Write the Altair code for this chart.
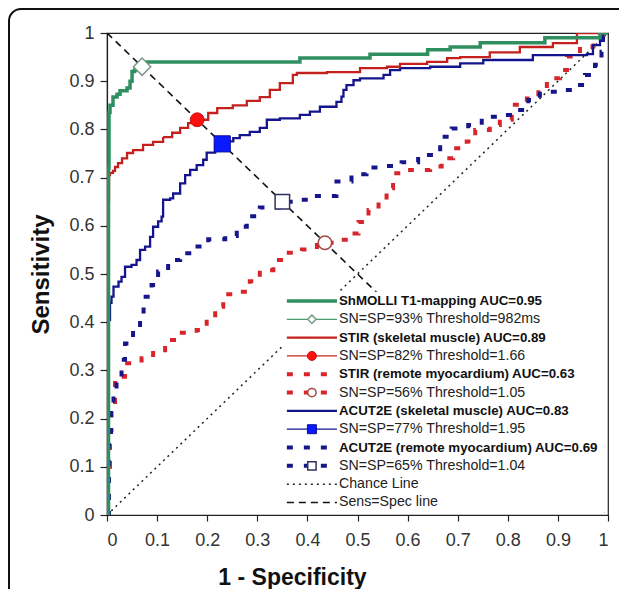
import altair as alt
import pandas as pd

# ---------------- data ----------------
shmolli_fpr = [0, 0.003, 0.004, 0.006, 0.012, 0.02, 0.026, 0.04, 0.046, 0.05, 0.055, 0.06, 0.07,
               0.08, 0.385, 0.525, 0.64, 0.685, 0.745, 0.874, 0.984, 1]
shmolli_tpr = [0, 0.72, 0.835, 0.85, 0.867, 0.873, 0.88, 0.886, 0.9, 0.92, 0.923, 0.927, 0.93,
               0.94, 0.948, 0.956, 0.965, 0.971, 0.98, 0.99, 1, 1]

stir_sk_fpr = [0, 0.002, 0.004, 0.006, 0.012, 0.016, 0.022, 0.03, 0.04, 0.052, 0.072, 0.092, 0.112,
               0.13, 0.146, 0.162, 0.182, 0.202, 0.22, 0.251, 0.279, 0.305, 0.325, 0.345, 0.371,
               0.379, 0.439, 0.505, 0.559, 0.585, 0.639, 0.679, 0.705, 0.764, 0.824, 0.89, 0.938, 1]
stir_sk_tpr = [0, 0.653, 0.705, 0.71, 0.714, 0.722, 0.73, 0.74, 0.751, 0.757, 0.768, 0.774, 0.784,
               0.793, 0.803, 0.813, 0.82, 0.834, 0.844, 0.85, 0.859, 0.867, 0.882, 0.896, 0.913,
               0.917, 0.919, 0.927, 0.93, 0.936, 0.94, 0.948, 0.95, 0.96, 0.971, 0.979, 1, 1]

stir_rm_fpr = [0, 0.004, 0.006, 0.009, 0.016, 0.036, 0.069, 0.092, 0.116, 0.142, 0.179, 0.199, 0.216,
               0.232, 0.265, 0.285, 0.305, 0.332, 0.355, 0.389, 0.419, 0.435, 0.458, 0.485, 0.502,
               0.522, 0.542, 0.558, 0.571, 0.605, 0.645, 0.668, 0.691, 0.718, 0.735, 0.764, 0.784,
               0.808, 0.838, 0.861, 0.878, 0.904, 0.918, 0.944, 0.971, 0.987, 1]
stir_rm_tpr = [0, 0.1, 0.176, 0.218, 0.287, 0.315, 0.325, 0.342, 0.363, 0.378, 0.384, 0.408, 0.432,
               0.458, 0.463, 0.485, 0.508, 0.529, 0.544, 0.551, 0.56, 0.565, 0.571, 0.584, 0.608,
               0.633, 0.65, 0.678, 0.709, 0.716, 0.723, 0.74, 0.761, 0.775, 0.799, 0.809, 0.82,
               0.851, 0.864, 0.882, 0.906, 0.923, 0.951, 0.972, 0.979, 0.996, 1]

acut_sk_fpr = [0, 0.002, 0.006, 0.009, 0.013, 0.023, 0.029, 0.036, 0.049, 0.059, 0.066, 0.076, 0.086,
               0.092, 0.102, 0.109, 0.112, 0.126, 0.132, 0.146, 0.156, 0.166, 0.179, 0.192, 0.199,
               0.216, 0.232, 0.252, 0.265, 0.285, 0.305, 0.319, 0.345, 0.385, 0.405, 0.425, 0.458,
               0.468, 0.472, 0.478, 0.492, 0.505, 0.552, 0.565, 0.585, 0.645, 0.705, 0.751, 0.85,
               0.958, 0.97, 0.984, 0.99, 1]
acut_sk_tpr = [0, 0.405, 0.44, 0.453, 0.474, 0.484, 0.494, 0.515, 0.519, 0.529, 0.55, 0.557, 0.577,
               0.598, 0.609, 0.619, 0.654, 0.657, 0.667, 0.688, 0.705, 0.716, 0.726, 0.737, 0.752,
               0.768, 0.775, 0.782, 0.788, 0.795, 0.803, 0.82, 0.823, 0.83, 0.837, 0.847, 0.857,
               0.868, 0.882, 0.892, 0.902, 0.906, 0.913, 0.923, 0.927, 0.93, 0.937, 0.944, 0.954,
               0.956, 0.975, 0.996, 1, 1]

acut_rm_fpr = [0, 0.004, 0.008, 0.013, 0.019, 0.029, 0.036, 0.052, 0.066, 0.073, 0.089, 0.102, 0.122,
               0.146, 0.176, 0.202, 0.236, 0.259, 0.279, 0.305, 0.349, 0.375, 0.409, 0.458, 0.488,
               0.518, 0.552, 0.588, 0.621, 0.651, 0.665, 0.688, 0.721, 0.748, 0.784, 0.818, 0.841,
               0.864, 0.901, 0.931, 0.954, 0.974, 0.987, 0.99, 1]
acut_rm_tpr = [0, 0.15, 0.22, 0.256, 0.287, 0.322, 0.356, 0.384, 0.415, 0.453, 0.477, 0.505, 0.529,
               0.543, 0.557, 0.572, 0.579, 0.598, 0.62, 0.638, 0.65, 0.654, 0.662, 0.692, 0.707,
               0.721, 0.724, 0.732, 0.747, 0.754, 0.785, 0.802, 0.809, 0.826, 0.83, 0.84, 0.861,
               0.878, 0.882, 0.892, 0.913, 0.934, 0.961, 0.992, 1]

# optimal cut-off points (SN = SP)
cut_names = ["shmolli", "stir_sk", "stir_rm", "acut_sk", "acut_rm"]
cut_fpr = [0.07, 0.18, 0.435, 0.23, 0.35]
cut_tpr = [0.93, 0.82, 0.565, 0.77, 0.65]

legend_labels = [
    "ShMOLLI T1-mapping AUC=0.95",
    "SN=SP=93% Threshold=982ms",
    "STIR (skeletal muscle) AUC=0.89",
    "SN=SP=82% Threshold=1.66",
    "STIR (remote myocardium) AUC=0.63",
    "SN=SP=56% Threshold=1.05",
    "ACUT2E (skeletal muscle) AUC=0.83",
    "SN=SP=77%  Threshold=1.95",
    "ACUT2E (remote myocardium) AUC=0.69",
    "SN=SP=65% Threshold=1.04",
    "Chance Line",
    "Sens=Spec line",
]
legend_bold = [True, False, True, False, True, False, True, False, True, False, False, False]

tick_values = [0, 0.1, 0.2, 0.3, 0.4, 0.5, 0.6, 0.7, 0.8, 0.9, 1]

# ---------------- styles ----------------
styles = {
    # key: (color, width, dash)
    "shmolli": ("#2f8f60", 3.5, [1, 0]),
    "shmolli_thin": ("#4a9a72", 1.3, [1, 0]),
    "stir_sk": ("#c4201d", 2.3, [1, 0]),
    "stir_sk_thin": ("#c4201d", 1.3, [1, 0]),
    "stir_rm": ("#d8242a", 4.0, [6, 11]),
    "acut_sk": ("#14148c", 2.3, [1, 0]),
    "acut_sk_thin": ("#14148c", 1.3, [1, 0]),
    "acut_rm": ("#16168a", 4.0, [6, 11]),
    "chance": ("#222222", 1.5, [2, 4]),
    "sens": ("#111111", 1.6, [7, 5]),
}
keys = list(styles)
color_scale = alt.Scale(domain=keys, range=[styles[k][0] for k in keys])
width_scale = alt.Scale(type="ordinal", domain=keys, range=[styles[k][1] for k in keys])
dash_scale = alt.Scale(type="ordinal", domain=keys, range=[styles[k][2] for k in keys])

FONT = "Liberation Sans"

# ---------------- frames ----------------
series = [
    ("stir_rm", stir_rm_fpr, stir_rm_tpr),
    ("acut_rm", acut_rm_fpr, acut_rm_tpr),
    ("acut_sk", acut_sk_fpr, acut_sk_tpr),
    ("stir_sk", stir_sk_fpr, stir_sk_tpr),
    ("shmolli", shmolli_fpr, shmolli_tpr),
]
rows = []
for k, (name, xs_, ys_) in enumerate(series):
    for i, (a, b) in enumerate(zip(xs_, ys_)):
        rows.append({"style": name, "fpr": a, "tpr": b, "order": k * 1000 + i})
curves_df = pd.DataFrame(rows)

ref_df = pd.DataFrame({
    "style": ["chance", "chance", "sens", "sens"],
    "fpr": [0, 1, 0, 1],
    "tpr": [0, 1, 1, 0],
})

marker_style = {
    "shmolli": ("diamond", "#ffffff", "#7a9a88", 300, 1.5),
    "stir_sk": ("circle", "#ff1010", "#c01010", 190, 1.0),
    "stir_rm": ("circle", "#ffffff", "#a04848", 180, 1.5),
    "acut_sk": ("square", "#0a1aff", "#0a0a9a", 260, 1.0),
    "acut_rm": ("square", "#ffffff", "#303060", 210, 1.5),
}
cut_df = pd.DataFrame({"name": cut_names, "fpr": cut_fpr, "tpr": cut_tpr})
cut_df["shape"] = [marker_style[n][0] for n in cut_names]
cut_df["fill"] = [marker_style[n][1] for n in cut_names]
cut_df["stroke"] = [marker_style[n][2] for n in cut_names]
cut_df["size"] = [marker_style[n][3] for n in cut_names]
cut_df["sw"] = [marker_style[n][4] for n in cut_names]

ROW0, ROWSTEP = 0.444, 0.038
leg_df = pd.DataFrame({"label": legend_labels, "bold": legend_bold, "row": range(len(legend_labels))})
leg_df["ly"] = ROW0 - leg_df["row"] * ROWSTEP
line_keys = ["shmolli", "shmolli_thin", "stir_sk", "stir_sk_thin", "stir_rm", "stir_rm",
             "acut_sk", "acut_sk_thin", "acut_rm", "acut_rm", "chance", "sens"]
leg_df["style"] = line_keys

leg_mark_rows = [1, 3, 5, 7, 9]
leg_mk = cut_df.copy()
leg_mk["ly"] = [ROW0 - r * ROWSTEP for r in leg_mark_rows]
leg_mk["size"] = [70, 80, 70, 80, 70]

xs = alt.Scale(domain=[0, 1], nice=False, zero=False)
ys = alt.Scale(domain=[0, 1], nice=False, zero=False)

x_axis = alt.Axis(values=tick_values, format=".1~f", title="1 - Specificity",
                  titleX=185, titleY=51, titleAlign="center", titleBaseline="top",
                  titleFontSize=23)
y_axis = alt.Axis(values=tick_values, format=".1~f", title="Sensitivity",
                  titleFontSize=24, titlePadding=15)

# ---------------- layers ----------------
ref_lines = alt.Chart(ref_df).mark_line(clip=True).encode(
    x=alt.X("fpr:Q", scale=xs, axis=x_axis),
    y=alt.Y("tpr:Q", scale=ys, axis=y_axis),
    color=alt.Color("style:N", scale=color_scale, legend=None),
    strokeWidth=alt.StrokeWidth("style:N", scale=width_scale, legend=None),
    strokeDash=alt.StrokeDash("style:N", scale=dash_scale, legend=None),
    detail="style:N",
)

curves = alt.Chart(curves_df).mark_line(interpolate="step-after", clip=True).encode(
    x="fpr:Q",
    y="tpr:Q",
    color=alt.Color("style:N", scale=color_scale, legend=None),
    strokeWidth=alt.StrokeWidth("style:N", scale=width_scale, legend=None),
    strokeDash=alt.StrokeDash("style:N", scale=dash_scale, legend=None),
    order="order:Q",
)

cuts = alt.Chart(cut_df).mark_point(filled=True, opacity=1).encode(
    x="fpr:Q",
    y="tpr:Q",
    shape=alt.Shape("shape:N", scale=None),
    fill=alt.Fill("fill:N", scale=None),
    stroke=alt.Stroke("stroke:N", scale=None),
    size=alt.Size("size:Q", scale=None),
    strokeWidth=alt.StrokeWidth("sw:Q", scale=None),
)

dummy = pd.DataFrame({"a": [0]})
legend_box = alt.Chart(dummy).mark_rect(fill="white").encode(
    x=alt.datum(0.351), x2=alt.datum(0.996), y=alt.datum(0.005), y2=alt.datum(0.463)
)

legend_lines = alt.Chart(leg_df).mark_rule().encode(
    x=alt.datum(0.359),
    x2=alt.datum(0.459),
    y="ly:Q",
    color=alt.Color("style:N", scale=color_scale, legend=None),
    strokeWidth=alt.StrokeWidth("style:N", scale=width_scale, legend=None),
    strokeDash=alt.StrokeDash("style:N", scale=dash_scale, legend=None),
)

legend_marks = alt.Chart(leg_mk).mark_point(filled=True, opacity=1).encode(
    x=alt.datum(0.409),
    y="ly:Q",
    shape=alt.Shape("shape:N", scale=None),
    fill=alt.Fill("fill:N", scale=None),
    stroke=alt.Stroke("stroke:N", scale=None),
    size=alt.Size("size:Q", scale=None),
    strokeWidth=alt.StrokeWidth("sw:Q", scale=None),
)

legend_bold_text = alt.Chart(leg_df).transform_filter("datum.bold").mark_text(
    align="left", baseline="middle", font=FONT, fontSize=13.3, fontWeight="bold", color="#111111"
).encode(x=alt.datum(0.463), y="ly:Q", text="label:N")

legend_norm_text = alt.Chart(leg_df).transform_filter("!datum.bold").mark_text(
    align="left", baseline="middle", font=FONT, fontSize=14.2, color="#222222"
).encode(x=alt.datum(0.463), y="ly:Q", text="label:N")

# outer page frame: top and left edges with a rounded top-left corner
frame_top = alt.Chart(dummy).mark_rule(stroke="#111111", strokeWidth=2, clip=False).encode(
    x=alt.value(-86), x2=alt.value(1200), y=alt.value(-24))
frame_left = alt.Chart(dummy).mark_rule(stroke="#111111", strokeWidth=2, clip=False).encode(
    x=alt.value(-98), y=alt.value(-12), y2=alt.value(1200))
frame_corner = alt.Chart(dummy).mark_arc(fill="#111111", clip=False).encode(
    x=alt.value(-86), y=alt.value(-12),
    theta=alt.value(4.712), theta2=alt.value(6.2832),
    radius=alt.value(13), radius2=alt.value(11))

chart = alt.layer(
    ref_lines, curves, cuts, legend_box, legend_lines, legend_marks,
    legend_bold_text, legend_norm_text, frame_top, frame_left, frame_corner
).properties(
    width=501, height=482,
    padding={"left": 99, "top": 25, "right": 11, "bottom": 74},
    autosize=alt.AutoSizeParams(type="none"),
).configure_view(
    stroke="#222222", strokeWidth=1.2
).configure_axis(
    grid=False,
    domainColor="#222222",
    domainWidth=1.2,
    tickColor="#222222",
    tickWidth=1.2,
    labelFont=FONT,
    labelFontSize=18,
    labelColor="#333333",
    titleFont=FONT,
    titleFontWeight="bold",
    titleColor="#111111",
).configure_axisX(
    tickSize=6, labelPadding=10,
).configure_axisY(
    tickSize=7, labelPadding=6,
)

chart.save("out.html", embed_options={"renderer": "svg", "actions": False})
